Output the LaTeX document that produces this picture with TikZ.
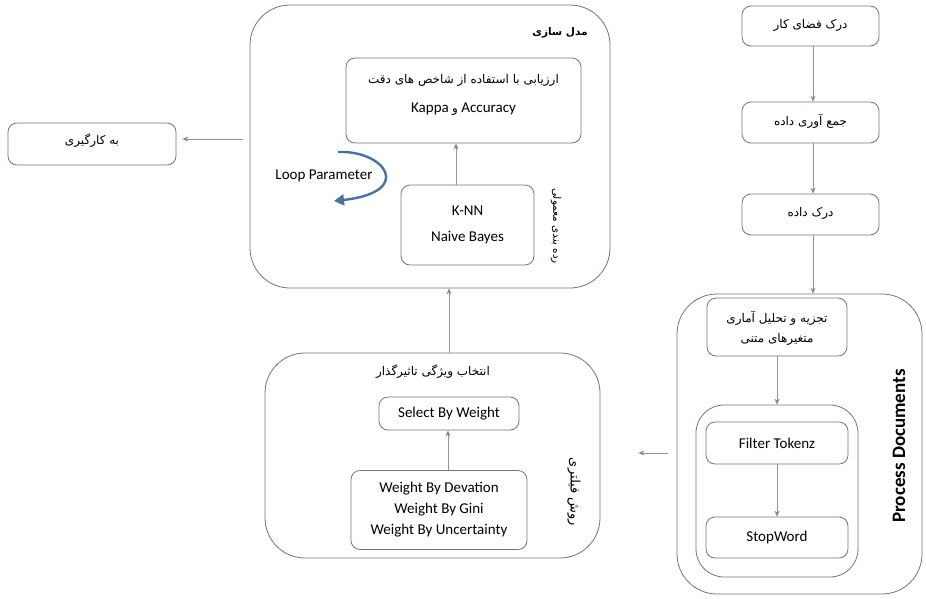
\documentclass[tikz,border=0pt]{standalone}
\usepackage{fontspec}
\setmainfont{Carlito}
\newfontfamily\arabicfont[Script=Arabic]{DejaVu Sans}
\TeXXeTstate=1
\usetikzlibrary{arrows.meta}
\definecolor{boxline}{RGB}{125,115,110}
\definecolor{arrline}{RGB}{140,150,160}
\definecolor{arrhead}{RGB}{120,140,160}
\definecolor{loopblue}{RGB}{70,115,160}
\begin{document}
\begin{tikzpicture}[x=1pt,y=-1pt,
  bigbox/.style={draw=boxline,line width=0.8pt,rounded corners=40pt,inner sep=0pt},
  midbox/.style={draw=boxline,line width=0.8pt,rounded corners=28pt,inner sep=0pt},
  smallbox/.style={draw=boxline,line width=0.8pt,rounded corners=9pt,inner sep=0pt,align=center,font=\fontsize{15}{19}\selectfont},
  conn/.style={draw=arrline,line width=0.8pt,-{Stealth[length=6pt,width=5pt,color=arrhead]}},
  lbl/.style={inner sep=0pt,align=center},
  ar/.style={font=\arabicfont\fontsize{12}{15}\selectfont}
]
\useasboundingbox (0,0) rectangle (926,598);
\fill[white] (0,0) rectangle (926,598);

% top centre group
\node[bigbox,minimum width=360pt,minimum height=283pt] (top) at (430,146.5) {};
\node[lbl,font=\arabicfont\bfseries\fontsize{10.5}{14}\selectfont] (modtitle) at (560,33) {\beginR مدل سازی\endR};
\node[smallbox,minimum width=235pt,minimum height=85pt] (eval) at (463.5,100.5) {};
\node[lbl,ar] (evalA) at (463.5,80) {\beginR ارزیابی با استفاده از شاخص های دقت\endR};
\node[lbl,font=\fontsize{15}{18}\selectfont] (evalB) at (463.5,109) {Kappa {\arabicfont\fontsize{12}{14}\selectfont و} Accuracy};
\node[smallbox,minimum width=133pt,minimum height=80pt] (knn) at (467.5,225) {K-NN\\[7pt]Naive Bayes};
\node[lbl,font=\arabicfont\fontsize{10.5}{14}\selectfont,rotate=-90] (radeh) at (556,226) {\beginR رده بندی معمولی\endR};
\node[lbl,font=\fontsize{15}{18}\selectfont] (looplbl) at (324,176) {Loop Parameter};
\coordinate (ls) at (338,152);
\coordinate (le) at (334,201);
\draw[loopblue,line width=2.4pt,-{Triangle[length=10pt,width=11pt]}] (ls) .. controls (385,150) and (415,192) .. (le);
\coordinate (c1) at (456,0);
\draw[conn] (knn.north -| c1) -- (eval.south -| c1);

% left box
\node[smallbox,minimum width=168pt,minimum height=42pt] (use) at (92,144) {};
\node[lbl,ar] (useT) at (92,141) {\beginR به کارگیری\endR};
\coordinate (c2) at (0,139);
\draw[conn,shorten <=7pt,shorten >=6pt] (top.west |- c2) -- (use.east |- c2);

% right column
\node[smallbox,minimum width=137pt,minimum height=40pt] (r1) at (810.5,26) {};
\node[lbl,ar] (r1t) at (810.5,25) {\beginR درک فضای کار\endR};
\node[smallbox,minimum width=137pt,minimum height=41pt] (r2) at (810.5,122.5) {};
\node[lbl,ar] (r2t) at (810.5,121) {\beginR جمع آوری داده\endR};
\node[smallbox,minimum width=137pt,minimum height=41pt] (r3) at (810.5,214.5) {};
\node[lbl,ar] (r3t) at (810.5,213) {\beginR درک داده\endR};
\coordinate (c3) at (813,0);
\draw[conn] (r1.south -| c3) -- (r2.north -| c3);
\draw[conn] (r2.south -| c3) -- (r3.north -| c3);

% process documents
\node[bigbox,minimum width=245pt,minimum height=300pt] (pd) at (799.5,444) {};
\draw[conn] (r3.south -| c3) -- (pd.north -| c3);
\node[smallbox,minimum width=140pt,minimum height=58pt] (taj) at (777,327) {};
\node[lbl,ar] (taj1) at (777,318) {\beginR تجزیه و تحلیل آماری\endR};
\node[lbl,ar] (taj2) at (777,339) {\beginR متغیرهای متنی\endR};
\node[midbox,minimum width=162pt,minimum height=172pt] (inner) at (777,491) {};
\draw[conn] (taj.south) -- (inner.north);
\node[smallbox,minimum width=142pt,minimum height=42pt] (filt) at (777,443) {Filter Tokenz};
\node[smallbox,minimum width=142pt,minimum height=41pt] (stop) at (777,537.5) {StopWord};
\draw[conn] (filt.south) -- (stop.north);
\node[lbl,rotate=90,font=\bfseries\fontsize{19}{22}\selectfont] (pdlbl) at (899,446) {Process Documents};

% bottom centre group
\node[bigbox,minimum width=335pt,minimum height=205pt] (bot) at (432.5,455.5) {};
\node[lbl,ar] (botT) at (433,372) {\beginR انتخاب ویژگی تاثیرگذار\endR};
\node[smallbox,minimum width=140pt,minimum height=33pt] (sel) at (449,413.5) {Select By Weight};
\node[smallbox,minimum width=176pt,minimum height=79pt,font=\fontsize{15}{21}\selectfont] (wt) at (439,510) {Weight By Devation\\Weight By Gini\\Weight By Uncertainty};
\node[lbl,font=\arabicfont\fontsize{13}{15}\selectfont,rotate=-90] (ravesh) at (574,492) {\beginR روش فیلتری\endR};
\coordinate (c4) at (448,0);
\draw[conn] (wt.north -| c4) -- (sel.south -| c4);
\coordinate (c5) at (449,0);
\draw[conn] (bot.north -| c5) -- (top.south -| c5);
\coordinate (c6) at (0,453);
\draw[conn,shorten <=9pt,shorten >=38pt] (pd.west |- c6) -- (bot.east |- c6);
\end{tikzpicture}
\end{document}
